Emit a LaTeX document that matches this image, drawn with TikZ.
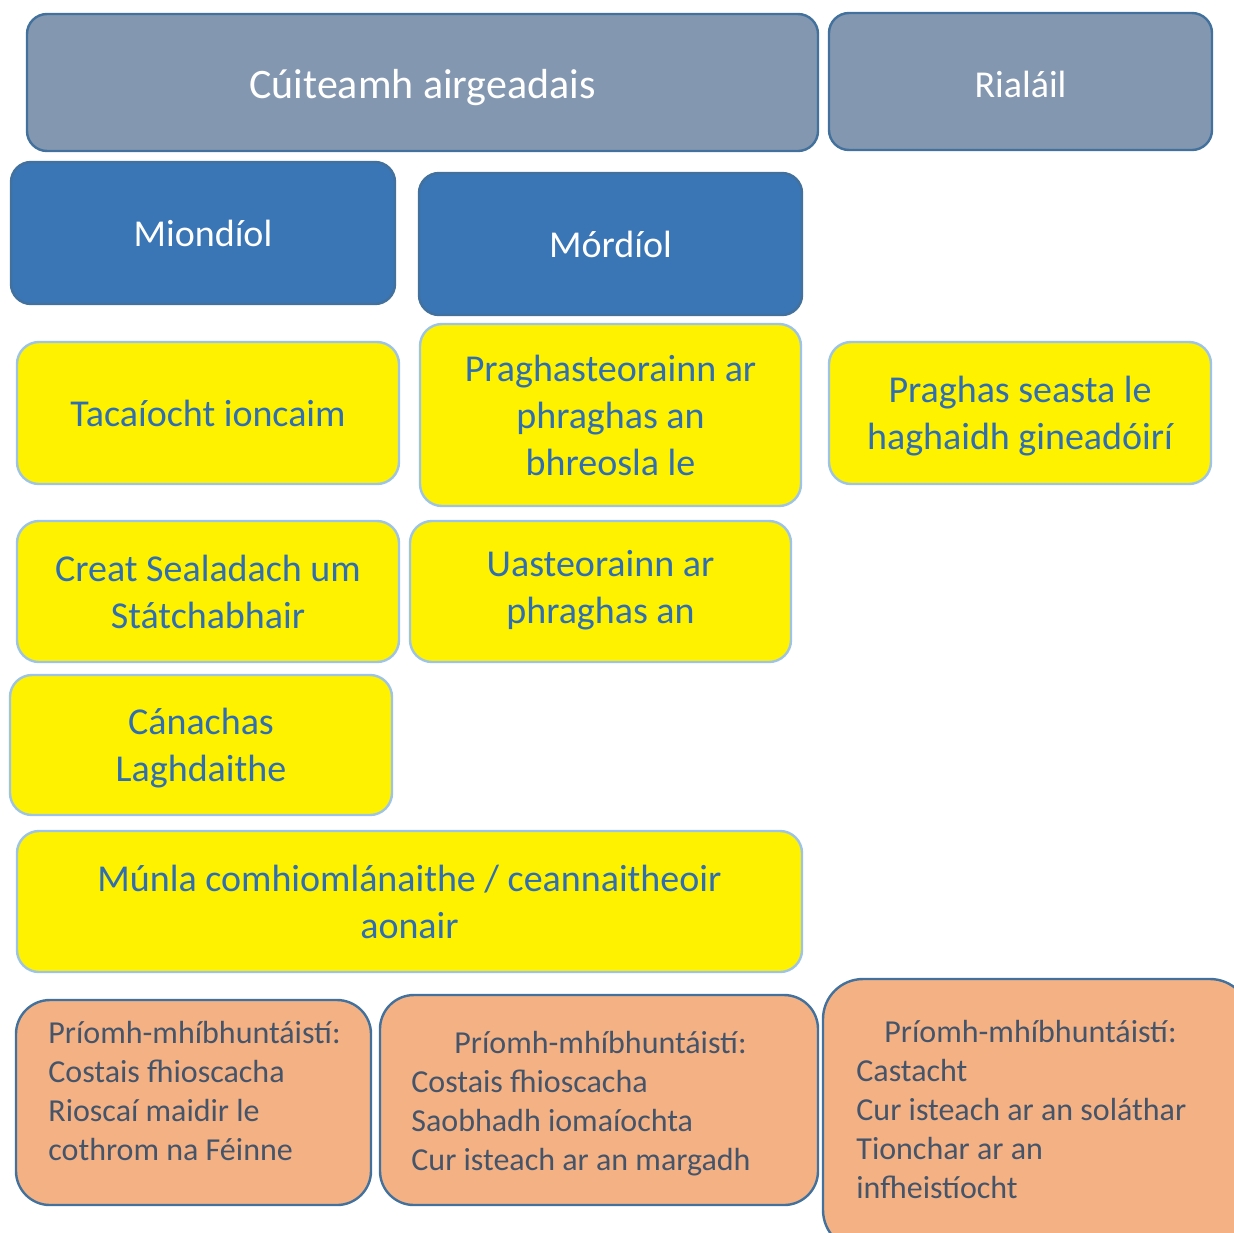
\documentclass[tikz,border=0pt]{standalone}
\usepackage{fontspec}
\setmainfont{Carlito}
\definecolor{greyblue}{HTML}{8497B0}
\definecolor{midblue}{HTML}{3A75B5}
\definecolor{edgeblue}{HTML}{41719C}
\definecolor{paleblue}{HTML}{9DC3E6}
\definecolor{textblue}{HTML}{2F6EB0}
\definecolor{peach}{HTML}{F4B183}
\definecolor{slate}{HTML}{44546A}
\tikzset{cell/.style={rounded corners=10pt,line width=1.2pt,align=center,inner sep=0pt}}
\tikzset{topcell/.style={cell,fill=greyblue,draw=edgeblue,text=white,font=\fontsize{21}{25}\selectfont}}
\tikzset{bluecell/.style={cell,fill=midblue,draw=edgeblue,text=white,font=\fontsize{19}{23.5}\selectfont}}
\tikzset{yellowcell/.style={cell,rounded corners=11pt,fill=yellow,draw=paleblue,text=textblue,font=\fontsize{19}{23.5}\selectfont}}
\tikzset{twolines/.style={text depth=0pt}}
\tikzset{peachcell/.style={cell,rounded corners=17pt,fill=peach,draw=edgeblue}}
\tikzset{peachtext/.style={align=left,inner sep=0pt,text=slate,font=\fontsize{16}{19.5}\selectfont}}
\begin{document}
\begin{tikzpicture}[x=0.5pt,y=-0.5pt]
	\useasboundingbox (0,0) rectangle (1234,1232);
	\clip (0,0) rectangle (1234,1232);

	% header row
	\node[topcell,text height=20pt,text depth=4pt,minimum width=395.5pt,minimum height=68.5pt] (cuiteamh) at (422.5,82.5) {Cúiteamh airgeadais};
	\node[topcell,font=\fontsize{19}{23.5}\selectfont,text height=16pt,text depth=0pt,minimum width=191.5pt,minimum height=68.5pt] (rialail) at (1020.5,81.5) {Rialáil};

	\node[bluecell,minimum width=192pt,minimum height=71pt] (miondiol) at (203,233) {Miondíol};
	\node[bluecell,minimum width=191.5pt,minimum height=71pt] (mordiol) at (610.5,244) {Mórdíol};

	% measures
	\node[yellowcell,minimum width=191pt,minimum height=71pt] (tacaiocht) at (208,413) {Tacaíocht ioncaim};
	\node[yellowcell,minimum width=190.5pt,minimum height=91pt] (teorainn) at (610.5,415) {Praghasteorainn ar\\phraghas an\\bhreosla le};
	\node[yellowcell,twolines,minimum width=191pt,minimum height=71pt] (seasta) at (1020,413) {Praghas seasta le\\haghaidh gineadóirí};
	\node[yellowcell,twolines,minimum width=191pt,minimum height=70.5pt] (creat) at (208,591.5) {Creat Sealadach um\\Státchabhair};
	\node[yellowcell,minimum width=190.5pt,minimum height=70.5pt] (uasteorainn) at (600.5,591.5) {};
	\node[yellowcell,draw=none,fill=none] (uastext) at (600.5,590) {Uasteorainn ar\\phraghas an};
	\node[yellowcell,twolines,minimum width=191pt,minimum height=70pt] (canachas) at (201,745) {Cánachas\\Laghdaithe};
	\node[yellowcell,twolines,minimum width=392.5pt,minimum height=70.5pt] (munla) at (409.5,901.5) {Múnla comhiomlánaithe / ceannaitheoir\\aonair};

	% drawbacks
	\node[peachcell,minimum width=177.5pt,minimum height=102.5pt] (miboth1) at (193.5,1102.5) {};
	\node[peachtext,anchor=west] (mitext1) at (48,1091) {Príomh-mhíbhuntáistí:\\Costais fhioscacha\\Rioscaí maidir le\\cothrom na Féinne};
	\node[peachcell,minimum width=219pt,minimum height=105pt] (miboth2) at (599,1100) {};
	\node[peachtext,anchor=west] (mitext2) at (411,1104) {\hspace*{21.5pt}Príomh-mhíbhuntáistí:\\Costais fhioscacha\\Saobhadh iomaíochta\\Cur isteach ar an margadh};
	\node[peachcell,rounded corners=20pt,minimum width=213.5pt,minimum height=135.5pt] (miboth3) at (1036.5,1114.5) {};
	\node[peachtext,anchor=west] (mitext3) at (856,1109.5) {\hspace*{14pt}Príomh-mhíbhuntáistí:\\Castacht\\Cur isteach ar an soláthar\\Tionchar ar an\\infheistíocht};
\end{tikzpicture}
\end{document}
